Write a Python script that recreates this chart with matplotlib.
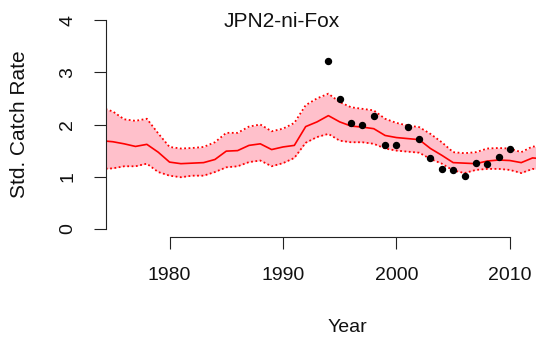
import matplotlib
matplotlib.use("Agg")
import matplotlib.pyplot as plt

# ================================
# data
years = list(range(1974, 2014))
est = [1.69, 1.67, 1.63, 1.58, 1.62, 1.47, 1.28, 1.25, 1.26, 1.27, 1.33, 1.49, 1.50,
       1.60, 1.63, 1.52, 1.57, 1.60, 1.96, 2.05, 2.17, 2.05, 1.97, 1.95, 1.92, 1.79,
       1.75, 1.73, 1.71, 1.54, 1.41, 1.27, 1.26, 1.25, 1.30, 1.32, 1.31, 1.27, 1.36, 1.34]
upper = [2.32, 2.25, 2.10, 2.07, 2.11, 1.83, 1.57, 1.54, 1.55, 1.57, 1.66, 1.84, 1.84,
         1.96, 2.00, 1.87, 1.92, 2.03, 2.37, 2.50, 2.59, 2.43, 2.33, 2.30, 2.27, 2.11,
         2.03, 1.98, 1.95, 1.82, 1.66, 1.47, 1.45, 1.47, 1.54, 1.55, 1.54, 1.47, 1.58, 1.56]
lower = [1.15, 1.16, 1.20, 1.20, 1.25, 1.09, 1.02, 0.99, 1.02, 1.02, 1.09, 1.18, 1.20,
         1.28, 1.31, 1.20, 1.26, 1.36, 1.65, 1.76, 1.82, 1.69, 1.66, 1.66, 1.63, 1.54,
         1.50, 1.48, 1.46, 1.34, 1.25, 1.12, 1.07, 1.13, 1.15, 1.15, 1.13, 1.07, 1.15, 1.13]

obs_years = list(range(1994, 2011))
obs = [3.22, 2.48, 2.03, 2.00, 2.16, 1.61, 1.61, 1.95, 1.72, 1.35, 1.14, 1.12,
       1.02, 1.26, 1.24, 1.37, 1.53]

x_ticks = [1980, 1990, 2000, 2010]
y_ticks = [0, 1, 2, 3, 4]
# ================================

W, H = 536, 339
fig = plt.figure(figsize=(W / 100, H / 100), dpi=100)
plt.rcParams['font.family'] = ['Liberation Sans', 'DejaVu Sans']

# plot region in pixels (R style, 4% padding on y)
left, right, top, bottom = 106, 536, 11.7, 237.3
ax = fig.add_axes([left / W, 1 - bottom / H, (right - left) / W, (bottom - top) / H])
ax.set_xlim(1974.4, 2012.3)
ax.set_ylim(-0.16, 4.16)

ax.fill_between(years, lower, upper, color="pink", linewidth=0)
ax.plot(years, est, color="red", linewidth=1.2)
ax.plot(years, upper, color="red", linewidth=1.3, linestyle=(0, (1, 1.4)))
ax.plot(years, lower, color="red", linewidth=1.3, linestyle=(0, (1, 1.4)))
ax.plot(obs_years, obs, "o", color="black", markersize=4.3, clip_on=False)

for s in ["top", "right"]:
    ax.spines[s].set_visible(False)
ax.spines["left"].set_bounds(0, 4)
ax.spines["bottom"].set_bounds(1980, 2010)
ax.spines["left"].set_color("#222222")
ax.spines["bottom"].set_color("#222222")

ax.set_xticks(x_ticks)
ax.set_yticks(y_ticks)
ax.set_yticklabels([str(v) for v in y_ticks], rotation=90, va="center")
ax.tick_params(axis="both", length=8.5, width=0.8, color="#222222", labelsize=14,
               labelcolor="#111111", pad=13)

fig.text(347 / W, 1 - 328 / H, "Year", ha="center", va="center", fontsize=14, color="#111111")
fig.text(20 / W, 1 - 124 / H, "Std. Catch Rate", ha="center", va="center", rotation=90,
         fontsize=15, color="#111111")
fig.text(282 / W, 1 - 21.5 / H, "JPN2-ni-Fox", ha="center", va="center", fontsize=15,
         color="#111111")

fig.savefig("out.png", dpi=100)
